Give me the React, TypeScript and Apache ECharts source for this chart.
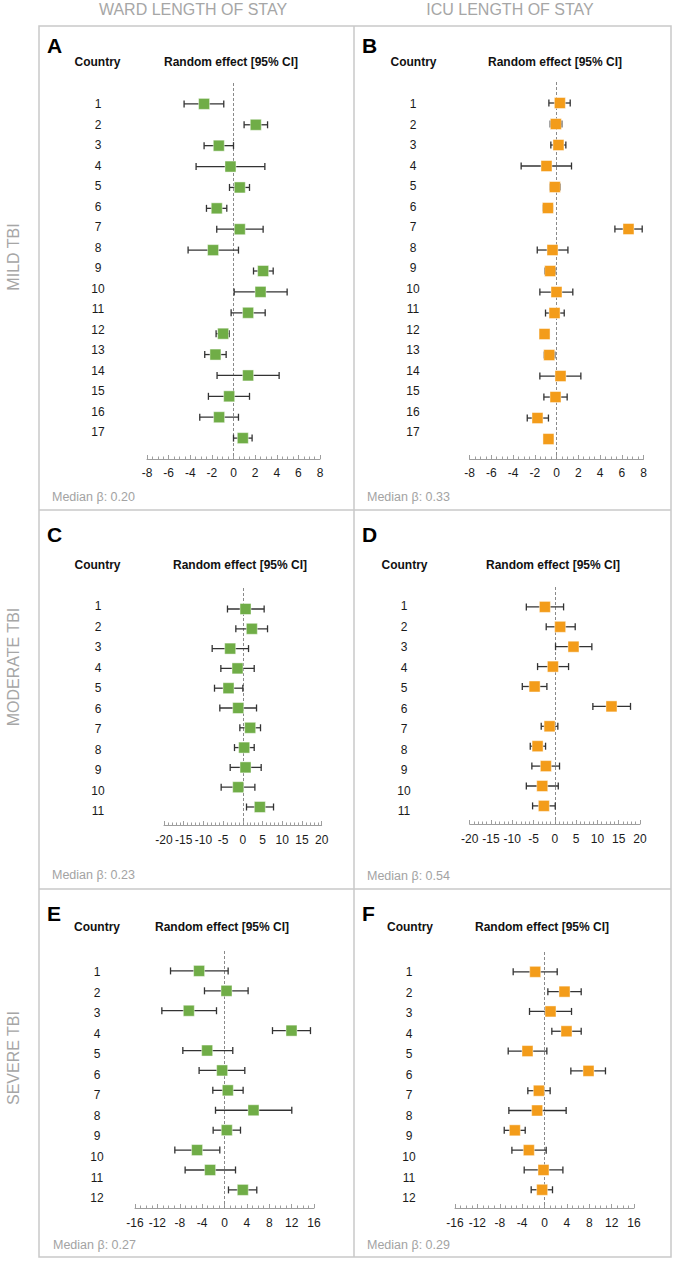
import React, { useEffect, useRef } from 'react';
import * as echarts from 'echarts';

const GREEN = '#70AD47';
const ORANGE = '#F39C1A';

// ---- Country labels ----
const mildCountries = ['1', '2', '3', '4', '5', '6', '7', '8', '9', '10', '11', '12', '13', '14', '15', '16', '17'];
const moderateCountries = ['1', '2', '3', '4', '5', '6', '7', '8', '9', '10', '11'];
const severeCountries = ['1', '2', '3', '4', '5', '6', '7', '8', '9', '10', '11', '12'];

// ---- A: Ward, mild TBI ----
const wardMildEst = [-2.72, 2.06, -1.36, -0.28, 0.58, -1.55, 0.58, -1.89, 2.74, 2.5, 1.35, -0.96, -1.67, 1.35, -0.4, -1.33, 0.86];
const wardMildLo = [-4.57, 0.98, -2.72, -3.46, -0.37, -2.5, -1.55, -4.2, 1.85, 0.06, -0.22, -1.61, -2.66, -1.52, -2.32, -3.12, 0.0];
const wardMildHi = [-0.9, 3.15, 0.0, 2.9, 1.48, -0.62, 2.74, 0.46, 3.67, 4.96, 2.93, -0.4, -0.68, 4.22, 1.48, 0.46, 1.72];

// ---- B: ICU, mild TBI ----
const icuMildEst = [0.31, -0.06, 0.18, -0.92, -0.15, -0.79, 6.62, -0.37, -0.58, 0.0, -0.18, -1.1, -0.67, 0.37, -0.09, -1.75, -0.74];
const icuMildLo = [-0.7, -0.58, -0.52, -3.25, -0.58, -1.22, 5.37, -1.77, -1.07, -1.53, -1.01, -1.3, -1.13, -1.53, -1.16, -2.69, -1.1];
const icuMildHi = [1.26, 0.49, 0.86, 1.38, 0.34, -0.37, 7.88, 1.05, -0.09, 1.5, 0.71, -0.9, -0.15, 2.24, 0.98, -0.74, -0.33];

// ---- C: Ward, moderate TBI ----
const wardModEst = [0.68, 2.28, -3.21, -1.35, -3.64, -1.18, 1.86, 0.34, 0.68, -1.18, 4.31];
const wardModLo = [-3.9, -1.78, -7.78, -5.58, -7.19, -5.84, -0.76, -2.12, -3.21, -5.5, 0.93];
const wardModHi = [5.4, 6.26, 1.44, 2.88, 0.0, 3.47, 4.48, 2.88, 4.65, 3.05, 7.78];

// ---- D: ICU, moderate TBI ----
const icuModEst = [-2.34, 1.25, 4.38, -0.46, -4.76, 13.3, -1.24, -4.06, -2.11, -2.96, -2.58];
const icuModLo = [-6.7, -2.03, 0.16, -4.06, -7.65, 8.93, -3.2, -5.78, -5.4, -6.7, -5.23];
const icuModHi = [2.05, 4.78, 8.69, 3.22, -1.87, 17.77, 0.7, -2.18, 1.1, 0.8, 0.09];

// ---- E: Ward, severe TBI ----
const wardSevEst = [-4.54, 0.36, -6.38, 11.98, -3.1, -0.42, 0.59, 5.18, 0.41, -4.9, -2.57, 3.27];
const wardSevLo = [-9.65, -3.58, -11.2, 8.58, -7.45, -4.54, -2.09, -1.61, -2.03, -8.88, -7.04, 0.71];
const wardSevHi = [0.65, 4.22, -1.43, 15.37, 1.48, 3.63, 3.33, 12.03, 2.86, -0.84, 1.97, 5.77];

// ---- F: ICU, severe TBI ----
const icuSevEst = [-1.66, 3.58, 1.07, 3.93, -3.04, 7.87, -1.01, -1.31, -5.3, -2.8, -0.18, -0.42];
const icuSevLo = [-5.6, 0.6, -2.68, 1.31, -6.49, 4.71, -2.98, -6.37, -7.2, -5.83, -3.63, -2.38];
const icuSevHi = [2.27, 6.56, 4.83, 6.56, 0.42, 10.9, 1.01, 3.87, -3.45, 0.3, 3.29, 1.43];

// ---- Axis settings ----
const mildAxis = { min: -8, max: 8, interval: 2, minorSplit: 4 };
const moderateAxis = { min: -20, max: 20, interval: 5, minorSplit: 5 };
const severeAxis = { min: -16, max: 16, interval: 4, minorSplit: 4 };

const medianLabels = ['Median β: 0.20', 'Median β: 0.33', 'Median β: 0.23', 'Median β: 0.54', 'Median β: 0.27', 'Median β: 0.29'];
const panelLetters = ['A', 'B', 'C', 'D', 'E', 'F'];
const columnTitles = ['WARD LENGTH OF STAY', 'ICU LENGTH OF STAY'];
const rowTitles = ['MILD TBI', 'MODERATE TBI', 'SEVERE TBI'];

const FONT = '"Liberation Sans", Arial, Helvetica, sans-serif';

type Panel = {
  est: number[]; lo: number[]; hi: number[]; countries: string[]; color: string;
  axis: { min: number; max: number; interval: number; minorSplit: number };
  grid: { left: number; top: number; width: number; height: number };
  yMin: number; yMax: number;
  labelX: number; labelRow1: number; labelStep: number;
  letterX: number; letterY: number;
  countryX: number; reX: number; headY: number;
  medX: number; medY: number; labelMargin: number;
};

const panels: Panel[] = [
  {
    est: wardMildEst, lo: wardMildLo, hi: wardMildHi, countries: mildCountries, color: GREEN, axis: mildAxis,
    grid: { left: 147, top: 83, width: 173, height: 376 }, yMin: 0, yMax: 18,
    labelX: 98, labelRow1: 104, labelStep: 20.5, letterX: 47, letterY: 45,
    countryX: 97.5, reX: 231, headY: 62, medX: 52, medY: 497, labelMargin: 8,
  },
  {
    est: icuMildEst, lo: icuMildLo, hi: icuMildHi, countries: mildCountries, color: ORANGE, axis: mildAxis,
    grid: { left: 469.5, top: 82, width: 174, height: 377 }, yMin: 0, yMax: 17.95,
    labelX: 413, labelRow1: 104, labelStep: 20.5, letterX: 362, letterY: 45,
    countryX: 413.5, reX: 555, headY: 62, medX: 367, medY: 497, labelMargin: 8,
  },
  {
    est: wardModEst, lo: wardModLo, hi: wardModHi, countries: moderateCountries, color: GREEN, axis: moderateAxis,
    grid: { left: 164, top: 588, width: 157.7, height: 237 }, yMin: -0.06, yMax: 11.91,
    labelX: 98, labelRow1: 606, labelStep: 20.5, letterX: 47, letterY: 534,
    countryX: 97.5, reX: 240, headY: 565, medX: 52, medY: 875, labelMargin: 9,
  },
  {
    est: icuModEst, lo: icuModLo, hi: icuModHi, countries: moderateCountries, color: ORANGE, axis: moderateAxis,
    grid: { left: 469.7, top: 587, width: 170.3, height: 237 }, yMin: 0, yMax: 11.91,
    labelX: 404, labelRow1: 606, labelStep: 20.5, letterX: 362, letterY: 534,
    countryX: 404.5, reX: 553, headY: 565, medX: 367, medY: 876, labelMargin: 9,
  },
  {
    est: wardSevEst, lo: wardSevLo, hi: wardSevHi, countries: severeCountries, color: GREEN, axis: severeAxis,
    grid: { left: 135, top: 951, width: 179, height: 257 }, yMin: 0, yMax: 12.91,
    labelX: 97, labelRow1: 972, labelStep: 20.55, letterX: 47, letterY: 913,
    countryX: 97, reX: 222, headY: 927, medX: 53, medY: 1245, labelMargin: 9,
  },
  {
    est: icuSevEst, lo: icuSevLo, hi: icuSevHi, countries: severeCountries, color: ORANGE, axis: severeAxis,
    grid: { left: 455, top: 952, width: 179, height: 256 }, yMin: 0, yMax: 12.92,
    labelX: 409, labelRow1: 972, labelStep: 20.55, letterX: 362, letterY: 913,
    countryX: 410, reX: 542, headY: 927, medX: 367, medY: 1245, labelMargin: 9,
  },
];

function buildOption() {
  const grids: any[] = [];
  const xAxes: any[] = [];
  const yAxes: any[] = [];
  const series: any[] = [];
  const graphics: any[] = [];
  const axisGray = '#9e9e9e';

  panels.forEach((p, i) => {
    const gMain = i * 2;
    const gLab = i * 2 + 1;
    grids.push({ left: p.grid.left, top: p.grid.top, width: p.grid.width, height: p.grid.height, containLabel: false });
    const n = p.countries.length;
    grids.push({ left: p.labelX, top: p.labelRow1 - p.labelStep / 2, width: 10, height: n * p.labelStep, containLabel: false });

    xAxes.push({
      gridIndex: gMain, type: 'value', min: p.axis.min, max: p.axis.max, interval: p.axis.interval,
      axisLine: { show: true, onZero: false, lineStyle: { color: axisGray, width: 1 } },
      axisTick: { show: true, inside: true, length: 4, lineStyle: { color: axisGray, width: 1 } },
      minorTick: { show: true, splitNumber: p.axis.minorSplit, length: 2.5, lineStyle: { color: axisGray, width: 1 } },
      splitLine: { show: false },
      axisLabel: { margin: p.labelMargin, fontSize: 12, color: '#1a1a1a', fontFamily: FONT, showMinLabel: true, showMaxLabel: true },
    });
    xAxes.push({ gridIndex: gLab, type: 'value', show: false, min: 0, max: 1 });

    yAxes.push({ gridIndex: gMain, type: 'value', inverse: true, min: p.yMin, max: p.yMax, show: false });
    yAxes.push({
      gridIndex: gLab, type: 'category', inverse: true, data: p.countries, position: 'left',
      axisLine: { show: false }, axisTick: { show: false }, splitLine: { show: false },
      axisLabel: { margin: 0, align: 'center', fontSize: 12, color: '#1a1a1a', fontFamily: FONT, interval: 0 },
    });

    series.push({
      type: 'custom',
      xAxisIndex: gMain, yAxisIndex: gMain,
      z: 2,
      clip: false,
      data: p.lo.map((lo, k) => [lo, p.hi[k], k + 1]),
      encode: { x: [0, 1], y: 2 },
      renderItem: (params: any, api: any) => {
        const y = api.value(2);
        const a = api.coord([api.value(0), y]);
        const b = api.coord([api.value(1), y]);
        const cap = 3.5;
        const style = { stroke: '#333333', lineWidth: 1.3, fill: null };
        return {
          type: 'group',
          children: [
            { type: 'line', shape: { x1: a[0], y1: a[1], x2: b[0], y2: b[1] }, style },
            { type: 'line', shape: { x1: a[0], y1: a[1] - cap, x2: a[0], y2: a[1] + cap }, style },
            { type: 'line', shape: { x1: b[0], y1: b[1] - cap, x2: b[0], y2: b[1] + cap }, style },
          ],
        };
      },
      markLine: {
        silent: true,
        symbol: ['none', 'none'],
        label: { show: false },
        lineStyle: { type: [3, 2], color: '#8a8a8a', width: 1 },
        data: [{ xAxis: 0 }],
        z: 1,
      },
    });

    series.push({
      type: 'scatter',
      xAxisIndex: gMain, yAxisIndex: gMain,
      z: 5,
      symbol: 'rect',
      symbolSize: 11,
      itemStyle: { color: p.color, borderColor: 'rgba(255,255,255,0.45)', borderWidth: 1, opacity: 1 },
      data: p.est.map((v, k) => [v, k + 1]),
    });

    graphics.push({
      type: 'text', left: undefined, x: p.letterX, y: p.letterY,
      style: { text: panelLetters[i], font: `bold 21px ${FONT}`, fill: '#000', textAlign: 'left', textVerticalAlign: 'middle' },
    });
    graphics.push({
      type: 'text', x: p.countryX, y: p.headY,
      style: { text: 'Country', font: `bold 12px ${FONT}`, fill: '#111', textAlign: 'center', textVerticalAlign: 'middle' },
    });
    graphics.push({
      type: 'text', x: p.reX, y: p.headY,
      style: { text: 'Random effect [95% CI]', font: `bold 12px ${FONT}`, fill: '#111', textAlign: 'center', textVerticalAlign: 'middle' },
    });
    graphics.push({
      type: 'text', x: p.medX, y: p.medY,
      style: { text: medianLabels[i], font: `12.5px ${FONT}`, fill: '#a3a3a3', textAlign: 'left', textVerticalAlign: 'middle' },
    });
  });

  // Borders
  const bc = '#c9c9c9';
  const bw = 1.5;
  graphics.push({ type: 'rect', shape: { x: 39, y: 26, width: 632, height: 1231 }, style: { fill: 'none', stroke: bc, lineWidth: bw }, z: 0 });
  graphics.push({ type: 'line', shape: { x1: 354, y1: 26, x2: 354, y2: 1257 }, style: { stroke: bc, lineWidth: bw } });
  graphics.push({ type: 'line', shape: { x1: 39, y1: 510, x2: 671, y2: 510 }, style: { stroke: bc, lineWidth: bw } });
  graphics.push({ type: 'line', shape: { x1: 39, y1: 889, x2: 671, y2: 889 }, style: { stroke: bc, lineWidth: bw } });

  // Column titles
  const colX = [193, 510];
  columnTitles.forEach((t, i) => {
    graphics.push({
      type: 'text', x: colX[i], y: 9,
      style: { text: t, font: `16px ${FONT}`, fill: '#a6a6a6', textAlign: 'center', textVerticalAlign: 'middle' },
    });
  });
  // Row titles (rotated)
  const rowY = [257, 667, 1058];
  rowTitles.forEach((t, i) => {
    graphics.push({
      type: 'text', x: 13, y: rowY[i], rotation: Math.PI / 2,
      style: { text: t, font: `16px ${FONT}`, fill: '#a6a6a6', textAlign: 'center', textVerticalAlign: 'middle' },
    });
  });

  return {
    animation: false,
    backgroundColor: '#ffffff',
    textStyle: { fontFamily: FONT },
    grid: grids,
    xAxis: xAxes,
    yAxis: yAxes,
    series,
    graphic: { elements: graphics },
  };
}

export default function App() {
  const ref = useRef<HTMLDivElement>(null);
  useEffect(() => {
    document.body.style.margin = '0';
    if (!ref.current) return;
    const chart = echarts.init(ref.current, undefined, { renderer: 'svg' });
    chart.setOption(buildOption() as any);
    return () => {
      chart.dispose();
    };
  }, []);
  return <div ref={ref} style={{ width: 675, height: 1261 }} />;
}
